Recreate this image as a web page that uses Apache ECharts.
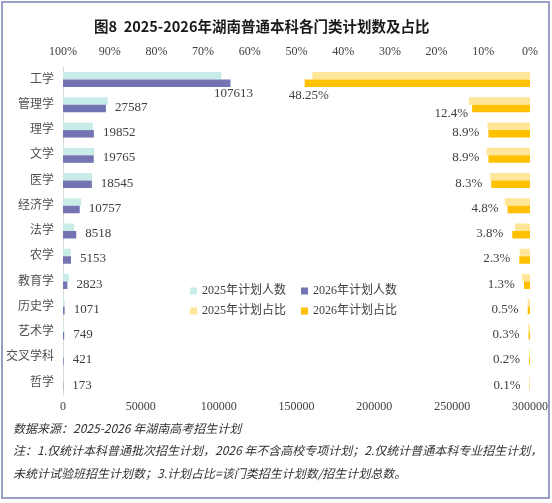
<!DOCTYPE html>
<html>
<head>
<meta charset="utf-8">
<script src="https://cdn.jsdelivr.net/npm/echarts@6/dist/echarts.min.js"></script>
<style>
  html, body { margin: 0; padding: 0; background: #fff; }
  #chart { width: 552px; height: 503px; }
</style>
</head>
<body>
<div id="chart"></div>
<script>
// 门类
const categories = ['工学', '管理学', '理学', '文学', '医学', '经济学', '法学', '农学', '教育学', '历史学', '艺术学', '交叉学科', '哲学'];
// 计划人数
const plan2025 = [101700, 28800, 19300, 20000, 18600, 11600, 7100, 4900, 3800, 1100, 800, 400, 150];
const plan2026 = [107613, 27587, 19852, 19765, 18545, 10757, 8518, 5153, 2823, 1071, 749, 421, 173];
// 计划占比 (%)
const share2025 = [46.6, 13.1, 9.1, 9.3, 8.5, 5.4, 3.2, 2.2, 1.7, 0.5, 0.4, 0.2, 0.1];
const share2026 = [48.25, 12.4, 8.9, 8.9, 8.3, 4.8, 3.8, 2.3, 1.3, 0.5, 0.3, 0.2, 0.1];
// 坐标轴刻度
const countAxis = { min: 0, max: 300000, interval: 50000 };
const shareAxis = { min: 0, max: 100, interval: 10 };

const notes = [
  '数据来源：2025-2026 年湖南高考招生计划',
  '注：1.仅统计本科普通批次招生计划，2026 年不含高校专项计划；2.仅统计普通本科专业招生计划，',
  '未统计试验班招生计划数；3.计划占比=该门类招生计划数/招生计划总数。'
];

const serif = 'Liberation Serif, Noto Sans CJK SC';
const textColor = '#404040';

const myChart = echarts.init(document.getElementById('chart'));

// first bars get their labels moved below the bar end, like the original
const count2026Data = plan2026.map((v, i) => {
  if (i === 0) {
    return { value: v, label: { position: ['100%', '100%'], align: 'center', verticalAlign: 'top', offset: [3, 0] } };
  }
  return v;
});
const share2026Data = share2026.map((v, i) => {
  if (i === 0) {
    return { value: v, label: { position: ['0%', '100%'], align: 'center', verticalAlign: 'top', offset: [4, 2] } };
  }
  if (i === 1) {
    return { value: v, label: { offset: [5, 5] } };
  }
  return v;
});

myChart.setOption({
  animation: false,
  title: {
    text: '图8  2025-2026年湖南普通本科各门类计划数及占比',
    left: 89,
    top: 14,
    textStyle: { fontFamily: 'Noto Sans CJK SC', fontSize: 14.5, fontWeight: 'bold', color: '#1a1a1a' }
  },
  legend: [
    {
      data: ['2025年计划人数', '2026年计划人数'],
      left: 185, top: 280,
      itemWidth: 7, itemHeight: 7, itemGap: 15,
      icon: 'rect',
      textStyle: { fontFamily: serif, fontSize: 12, color: textColor }
    },
    {
      data: ['2025年计划占比', '2026年计划占比'],
      left: 185, top: 300,
      itemWidth: 7, itemHeight: 7, itemGap: 15,
      icon: 'rect',
      textStyle: { fontFamily: serif, fontSize: 12, color: textColor }
    }
  ],
  grid: { left: 63, right: 22, top: 67, bottom: 108, containLabel: false },
  xAxis: [
    {
      type: 'value',
      position: 'bottom',
      min: countAxis.min, max: countAxis.max, interval: countAxis.interval,
      axisLine: { show: false }, axisTick: { show: false }, splitLine: { show: false },
      axisLabel: { margin: 6, formatter: (v) => String(v), fontFamily: serif, fontSize: 12, color: textColor }
    },
    {
      type: 'value',
      position: 'top',
      inverse: true,
      min: shareAxis.min, max: shareAxis.max, interval: shareAxis.interval,
      axisLine: { show: false }, axisTick: { show: false }, splitLine: { show: false },
      axisLabel: { margin: 9, formatter: '{value}%', fontFamily: serif, fontSize: 12, color: textColor }
    }
  ],
  yAxis: [
    {
      type: 'category',
      data: categories,
      inverse: true,
      axisLine: { show: true, lineStyle: { color: '#d9d9d9', width: 1 } },
      axisTick: { show: false },
      axisLabel: { margin: 9, fontFamily: serif, fontSize: 12, color: '#505050' }
    },
    {
      type: 'category',
      data: categories,
      inverse: true,
      show: false
    }
  ],
  series: [
    {
      name: '2025年计划人数', type: 'bar', xAxisIndex: 0, yAxisIndex: 0,
      data: plan2025, barWidth: 7.5, barGap: '0%',
      itemStyle: { color: '#c8ede9' }
    },
    {
      name: '2026年计划人数', type: 'bar', xAxisIndex: 0, yAxisIndex: 0,
      data: count2026Data, barWidth: 7.5, barGap: '0%',
      itemStyle: { color: '#7474b3' },
      label: { show: true, position: 'right', distance: 9, offset: [0, -1], fontFamily: serif, fontSize: 13, color: textColor }
    },
    {
      name: '2025年计划占比', type: 'bar', xAxisIndex: 1, yAxisIndex: 1,
      data: share2025, barWidth: 7.5, barGap: '0%',
      itemStyle: { color: '#ffe699' }
    },
    {
      name: '2026年计划占比', type: 'bar', xAxisIndex: 1, yAxisIndex: 1,
      data: share2026Data, barWidth: 7.5, barGap: '0%',
      itemStyle: { color: '#ffc000' },
      label: { show: true, position: 'left', distance: 9, offset: [0, -1], formatter: '{c}%', fontFamily: serif, fontSize: 13, color: textColor }
    }
  ],
  graphic: [
    {
      type: 'rect', silent: true, z: 100,
      shape: { x: 2, y: 2, width: 547, height: 496 },
      style: { fill: 'none', stroke: '#7b7fb8', lineWidth: 1.5 }
    },
    ...notes.map((t, i) => ({
      type: 'text', left: 13, top: 422 + i * 22.5,
      style: { text: t, fontFamily: 'Noto Sans CJK SC', fontStyle: 'italic', fontSize: 12, fill: '#333' }
    }))
  ]
});
</script>
</body>
</html>
